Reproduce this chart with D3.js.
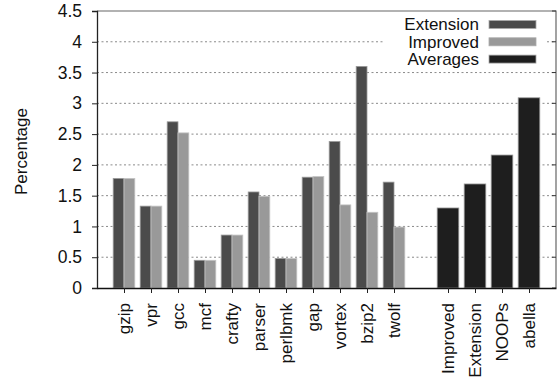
<!DOCTYPE html>
<html>
<head>
<meta charset="utf-8">
<script src="https://cdn.jsdelivr.net/npm/d3@7/dist/d3.min.js"></script>
<style>
  html, body { margin: 0; padding: 0; background: #fff; }
  svg { display: block; font-family: "Liberation Sans", Arial, Helvetica, sans-serif; }
</style>
</head>
<body>
<svg id="chart" width="558" height="377"></svg>
<script>
// Per-benchmark overhead (percentage)
const benchmarks = ["gzip", "vpr", "gcc", "mcf", "crafty", "parser", "perlbmk", "gap", "vortex", "bzip2", "twolf"];
const extensionValues = [1.78, 1.33, 2.70, 0.45, 0.86, 1.56, 0.48, 1.80, 2.38, 3.60, 1.72];
const improvedValues  = [1.78, 1.33, 2.52, 0.45, 0.86, 1.49, 0.48, 1.81, 1.35, 1.23, 0.99];

// Summary averages, drawn after a one-slot gap
const averageLabels = ["Improved", "Extension", "NOOPs", "abella"];
const averageValues = [1.30, 1.69, 2.16, 3.09];

const yTicks = [0, 0.5, 1, 1.5, 2, 2.5, 3, 3.5, 4, 4.5];
const legendLabels = ["Extension", "Improved", "Averages"];

const colors = { extension: "#4b4b4b", improved: "#999999", averages: "#1e1e1e" };
const fontFamily = "'Liberation Sans', Arial, sans-serif";

const svg = d3.select("#chart");
const plot = { left: 97, right: 556, top: 11, bottom: 288 };

// Slot positions: benchmarks at 0..10, averages at 12..15
const benchSlots = benchmarks.map((_, i) => i);
const avgSlots = averageLabels.map((_, i) => benchmarks.length + 1 + i);
const slotLabel = new Map();
benchSlots.forEach((s, i) => slotLabel.set(s, benchmarks[i]));
avgSlots.forEach((s, i) => slotLabel.set(s, averageLabels[i]));

const x = d3.scaleLinear().domain([-1, avgSlots[avgSlots.length - 1] + 1]).range([plot.left, plot.right]);
const y = d3.scaleLinear().domain([0, 4.5]).range([plot.bottom, plot.top]);
const slot = x(1) - x(0);

// Dotted horizontal grid
svg.append("g")
  .selectAll("line")
  .data(yTicks.filter(t => t > 0 && t < 4.5))
  .join("line")
  .attr("x1", plot.left).attr("x2", plot.right)
  .attr("y1", d => y(d)).attr("y2", d => y(d))
  .attr("stroke", "#8a8a8a")
  .attr("stroke-width", 1)
  .attr("stroke-dasharray", "2,2.5");

// Legend background hides the grid behind it
svg.append("rect")
  .attr("x", 383).attr("y", 14).attr("width", 163).attr("height", 55)
  .attr("fill", "#fff");

// Benchmark bars
const bars = svg.append("g");
bars.selectAll("rect.ext")
  .data(extensionValues)
  .join("rect")
  .attr("class", "ext")
  .attr("x", (d, i) => x(benchSlots[i]) - slot * 0.4)
  .attr("width", slot * 0.4)
  .attr("y", d => y(d))
  .attr("height", d => y(0) - y(d))
  .attr("fill", colors.extension)
  .attr("stroke", "#9a9a9a").attr("stroke-width", 0.8);

bars.selectAll("rect.imp")
  .data(improvedValues)
  .join("rect")
  .attr("class", "imp")
  .attr("x", (d, i) => x(benchSlots[i]))
  .attr("width", slot * 0.4)
  .attr("y", d => y(d))
  .attr("height", d => y(0) - y(d))
  .attr("fill", colors.improved)
  .attr("stroke", "#c4c4c4").attr("stroke-width", 0.8);

bars.selectAll("rect.avg")
  .data(averageValues)
  .join("rect")
  .attr("class", "avg")
  .attr("x", (d, i) => x(avgSlots[i]) - slot * 0.4)
  .attr("width", slot * 0.8)
  .attr("y", d => y(d))
  .attr("height", d => y(0) - y(d))
  .attr("fill", colors.averages)
  .attr("stroke", "#9a9a9a").attr("stroke-width", 0.8);

// Top and right border
svg.append("path")
  .attr("d", `M${plot.left},${plot.top}H${plot.right}V${plot.bottom}`)
  .attr("fill", "none")
  .attr("stroke", "#666")
  .attr("stroke-width", 1.2);

// Mirror ticks on the right border
svg.append("g")
  .selectAll("line")
  .data(yTicks)
  .join("line")
  .attr("x1", plot.right - 4).attr("x2", plot.right)
  .attr("y1", d => y(d)).attr("y2", d => y(d))
  .attr("stroke", "#333").attr("stroke-width", 1);

// Y axis
const yAxis = svg.append("g")
  .attr("transform", `translate(${plot.left},0)`)
  .call(d3.axisLeft(y).tickValues(yTicks).tickFormat(d => String(d)).tickSize(5).tickPadding(10));
yAxis.select(".domain").attr("stroke", "#222").attr("stroke-width", 1.3);
yAxis.selectAll(".tick line").attr("stroke", "#222");
yAxis.selectAll(".tick text")
  .attr("font-size", 17.5)
  .attr("fill", "#111")
  .attr("font-family", fontFamily);

// X axis with rotated category labels
const xAxis = svg.append("g")
  .attr("transform", `translate(0,${plot.bottom})`)
  .call(d3.axisBottom(x)
    .tickValues([...benchSlots, ...avgSlots])
    .tickFormat(d => slotLabel.get(d))
    .tickSize(5)
    .tickSizeOuter(0));
xAxis.select(".domain").attr("stroke", "#111").attr("stroke-width", 1.5);
xAxis.selectAll(".tick line").attr("stroke", "#222");
xAxis.selectAll(".tick text")
  .attr("font-size", 17)
  .attr("fill", "#111")
  .attr("font-family", fontFamily)
  .attr("text-anchor", "end")
  .attr("transform", "rotate(-90)")
  .attr("x", -15)
  .attr("y", 0)
  .attr("dy", "0.35em");

// Y axis title
svg.append("text")
  .attr("transform", `translate(27,${(108 + 195) / 2}) rotate(-90)`)
  .attr("text-anchor", "middle")
  .attr("font-size", 17)
  .attr("fill", "#111")
  .text("Percentage");

// Legend
const legend = svg.append("g");
const legendColors = [colors.extension, colors.improved, colors.averages];
legendLabels.forEach((label, i) => {
  const cy = 24.5 + i * 17.3;
  legend.append("text")
    .attr("x", 479).attr("y", cy)
    .attr("dy", "0.35em")
    .attr("text-anchor", "end")
    .attr("font-size", 17)
    .attr("fill", "#111")
    .text(label);
  legend.append("rect")
    .attr("x", 489).attr("y", cy - 4)
    .attr("width", 47).attr("height", 8)
    .attr("fill", legendColors[i])
    .attr("stroke", "#aaa").attr("stroke-width", 0.8);
});
</script>
</body>
</html>
